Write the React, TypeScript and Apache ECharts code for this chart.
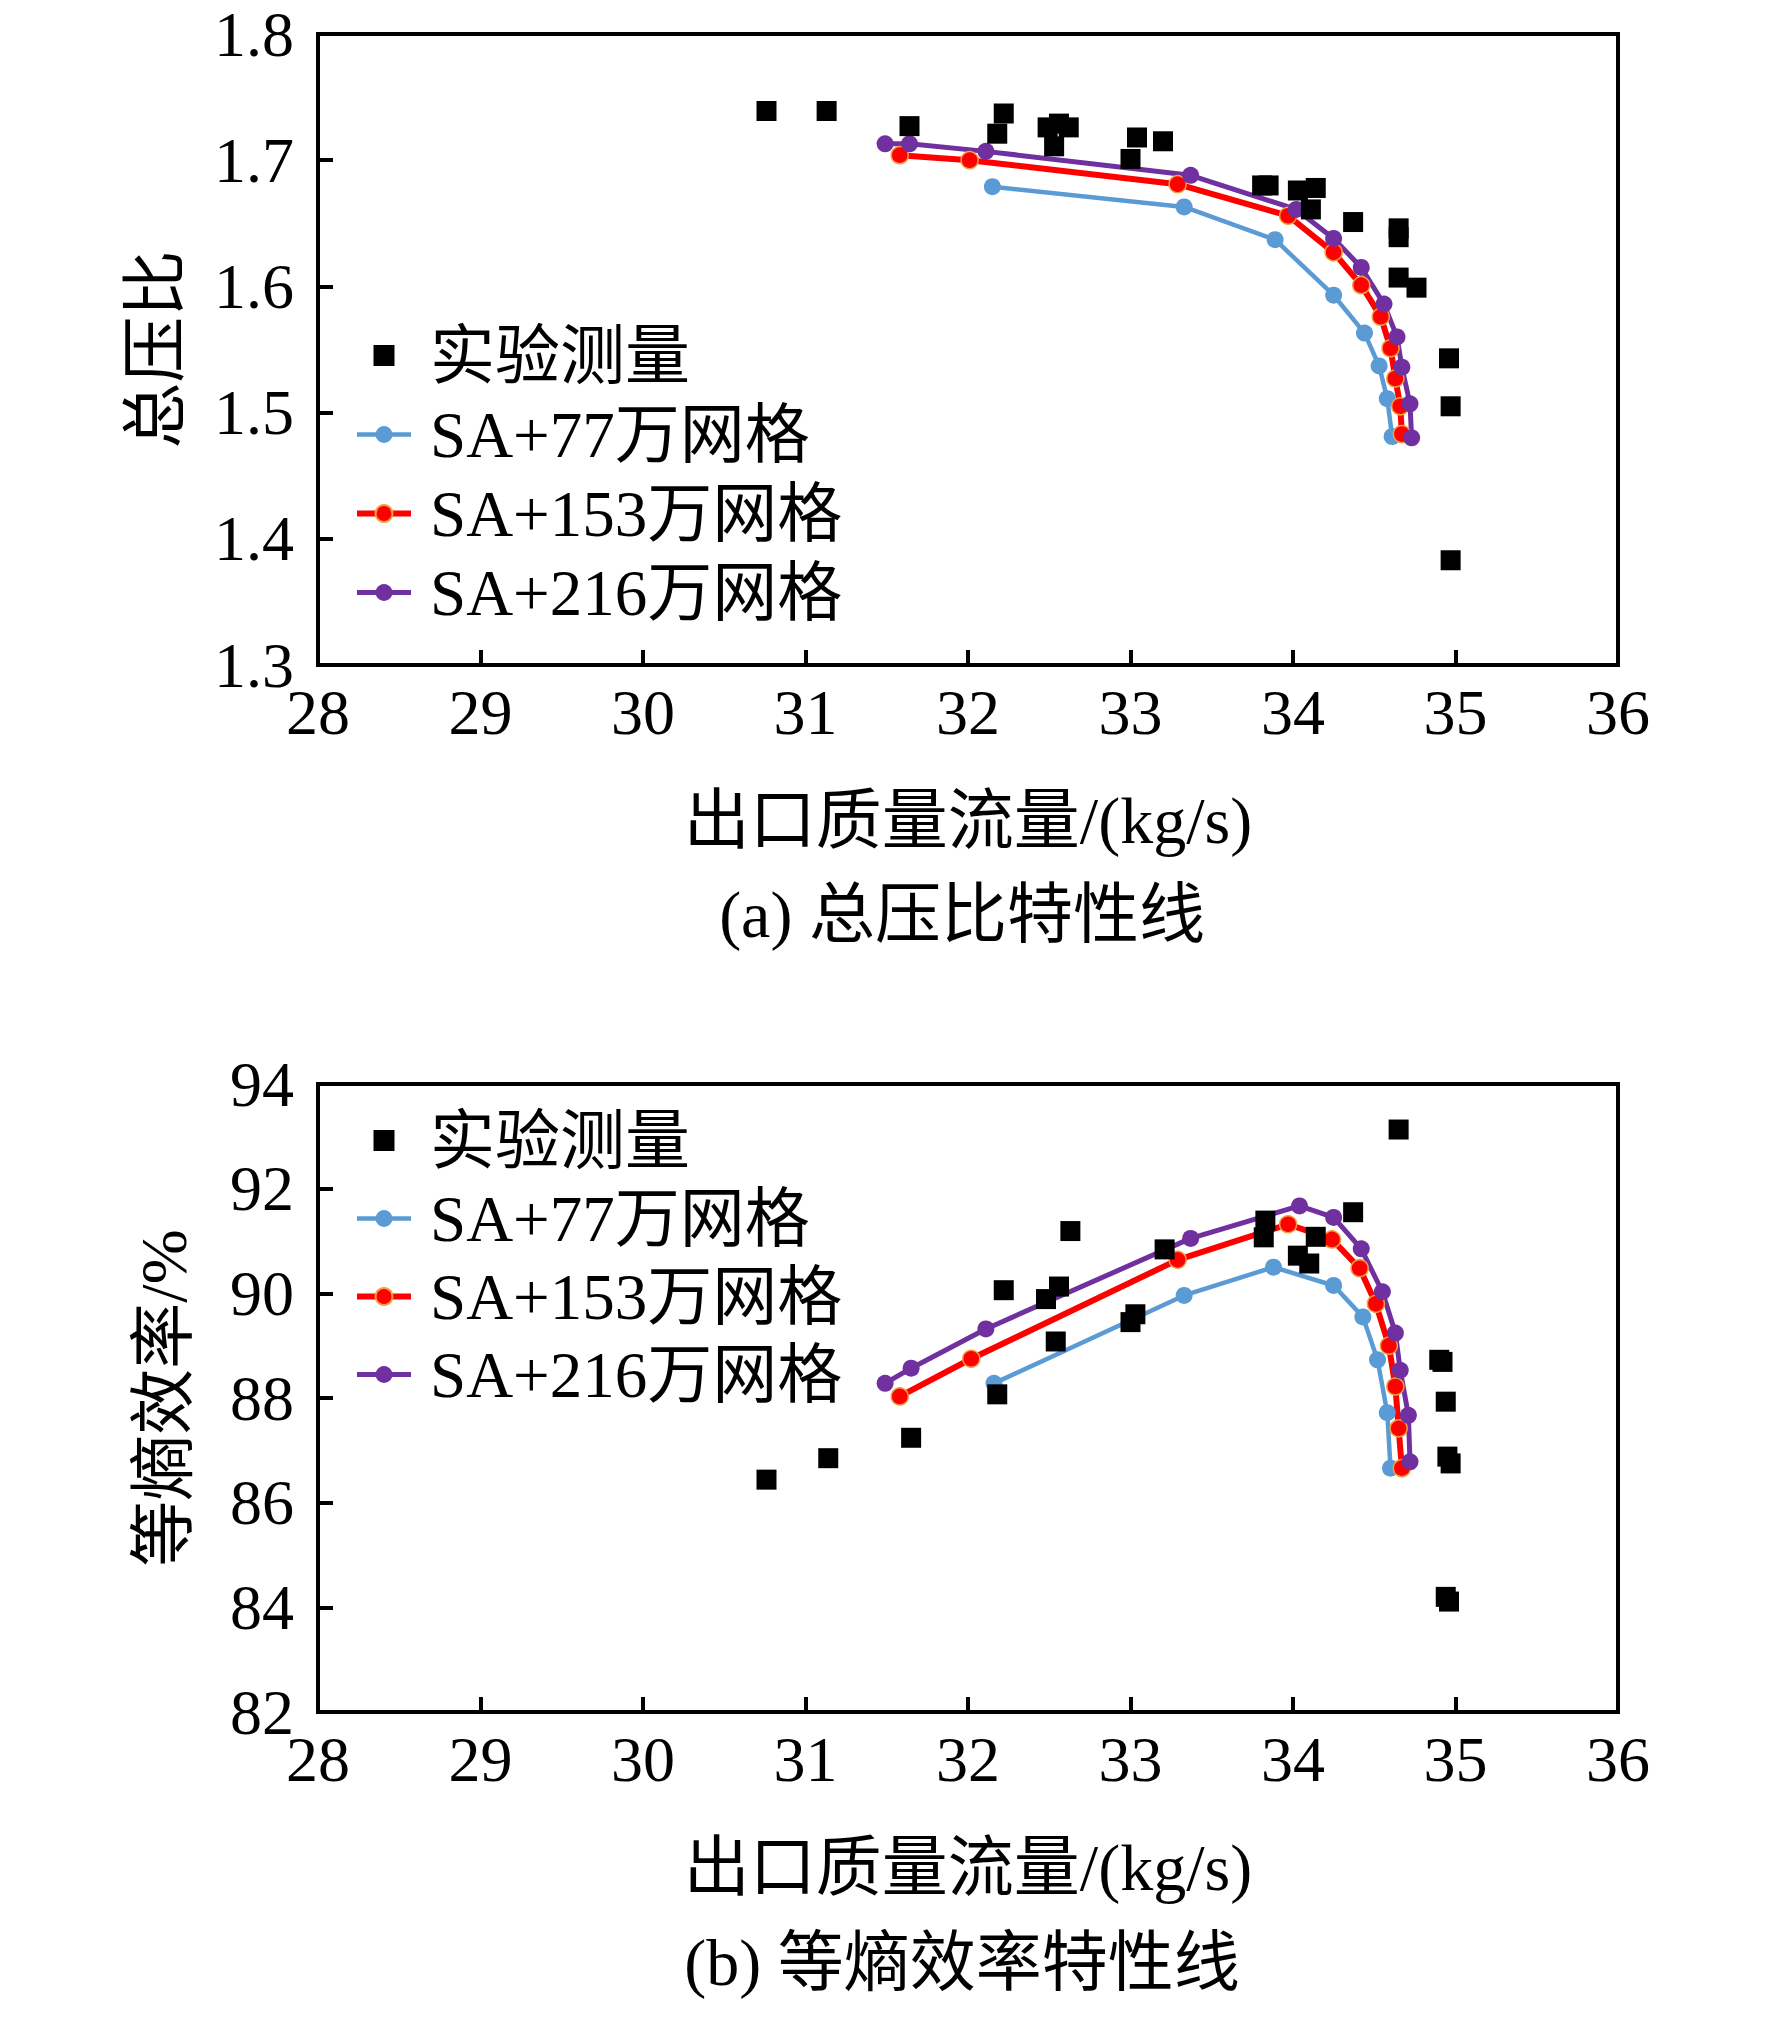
import React, { useEffect, useRef } from "react";
import * as echarts from "echarts";

// ---------- data ----------
const xTicks = [28, 29, 30, 31, 32, 33, 34, 35, 36];
const names = ["实验测量", "SA+77万网格", "SA+153万网格", "SA+216万网格"];
const colors = ["#000000", "#5b9bd5", "#ff0000", "#7030a0"];

// (a) total pressure ratio
const expPR = [
  [30.76, 1.739], [31.13, 1.739], [31.64, 1.727], [32.22, 1.737], [32.18, 1.721],
  [32.49, 1.726], [32.56, 1.729], [32.62, 1.726], [32.53, 1.711], [33.04, 1.718],
  [33.0, 1.701], [33.2, 1.715], [33.81, 1.68], [33.85, 1.68], [34.03, 1.676],
  [34.14, 1.678], [34.11, 1.661], [34.37, 1.651], [34.65, 1.646], [34.65, 1.639],
  [34.65, 1.607], [34.76, 1.599], [34.96, 1.543], [34.97, 1.505], [34.97, 1.383],
];
const pr77 = [
  [32.15, 1.679], [33.33, 1.663], [33.89, 1.637], [34.25, 1.593],
  [34.44, 1.563], [34.53, 1.537], [34.58, 1.511], [34.61, 1.481],
];
const pr153 = [
  [31.58, 1.704], [32.01, 1.7], [33.29, 1.681], [33.97, 1.656], [34.25, 1.627],
  [34.42, 1.601], [34.54, 1.576], [34.6, 1.551], [34.63, 1.527], [34.66, 1.505], [34.67, 1.483],
];
const pr216 = [
  [31.49, 1.713], [31.64, 1.713], [32.11, 1.707], [33.37, 1.688], [34.02, 1.661], [34.25, 1.638],
  [34.42, 1.615], [34.56, 1.586], [34.64, 1.56], [34.67, 1.536], [34.72, 1.507], [34.73, 1.48],
];

// (b) isentropic efficiency
const expEff = [
  [30.76, 86.44], [31.14, 86.85], [31.65, 87.24], [32.18, 88.07], [32.22, 90.06],
  [32.48, 89.89], [32.54, 89.08], [32.56, 90.13], [32.63, 91.19], [33.0, 89.45],
  [33.03, 89.6], [33.21, 90.84], [33.82, 91.07], [33.83, 91.39], [34.03, 90.72],
  [34.1, 90.57], [34.14, 91.08], [34.37, 91.55], [34.65, 93.13], [34.9, 88.73],
  [34.92, 88.69], [34.94, 87.93], [34.95, 86.88], [34.97, 86.75], [34.94, 84.2], [34.96, 84.11],
];
const eff77 = [
  [32.16, 88.28], [33.33, 89.96], [33.88, 90.5], [34.25, 90.15],
  [34.43, 89.55], [34.52, 88.73], [34.58, 87.72], [34.6, 86.66],
];
const eff153 = [
  [31.58, 88.03], [32.02, 88.75], [33.29, 90.64], [33.97, 91.32], [34.24, 91.03],
  [34.41, 90.48], [34.51, 89.8], [34.59, 89.0], [34.63, 88.22], [34.65, 87.42], [34.67, 86.66],
];
const eff216 = [
  [31.49, 88.28], [31.65, 88.57], [32.11, 89.32], [33.37, 91.05], [34.04, 91.67], [34.25, 91.45],
  [34.42, 90.85], [34.55, 90.03], [34.63, 89.24], [34.66, 88.53], [34.71, 87.67], [34.72, 86.78],
];

const xTitle = "出口质量流量/(kg/s)";
const yTitleA = "总压比";
const yTitleB = "等熵效率/%";
const captionA = "(a) 总压比特性线";
const captionB = "(b) 等熵效率特性线";

// ---------- styles ----------
const FONT = "'Liberation Serif', 'Times New Roman', 'Noto Sans CJK SC', serif";
const AXIS_W = 4;
const lineWidths = [0, 4.5, 6, 5];
const SQUARE_ICON = "path://M0,0L20,0L20,20L0,20Z";

function xAxisCfg(gridIndex: number) {
  return {
    type: "value",
    gridIndex,
    min: xTicks[0],
    max: xTicks[xTicks.length - 1],
    interval: 1,
    name: xTitle,
    nameLocation: "middle",
    nameGap: 122,
    nameTextStyle: { fontSize: 66, fontFamily: FONT, color: "#000" },
    axisLine: { show: true, lineStyle: { color: "#000", width: AXIS_W } },
    axisTick: { show: true, inside: true, length: 15, lineStyle: { color: "#000", width: AXIS_W } },
    axisLabel: { fontSize: 64, fontFamily: FONT, color: "#000", margin: 15 },
    splitLine: { show: false },
  };
}

function yAxisCfg(gridIndex: number, min: number, max: number, interval: number, name: string, gap: number, dec: number) {
  return {
    type: "value",
    gridIndex,
    min,
    max,
    interval,
    name,
    nameLocation: "middle",
    nameGap: gap,
    nameTextStyle: { fontSize: 66, fontFamily: FONT, color: "#000" },
    axisLine: { show: true, lineStyle: { color: "#000", width: AXIS_W } },
    axisTick: { show: true, inside: true, length: 15, lineStyle: { color: "#000", width: AXIS_W } },
    axisLabel: {
      fontSize: 64,
      fontFamily: FONT,
      color: "#000",
      margin: 24,
      formatter: (v: number) => v.toFixed(dec),
    },
    splitLine: { show: false },
  };
}

function lineSeries(name: string, data: number[][], idx: number, color: string, width: number, extra: any = {}) {
  return {
    name,
    type: "line",
    xAxisIndex: idx,
    yAxisIndex: idx,
    data,
    symbol: "circle",
    symbolSize: 17,
    showSymbol: true,
    lineStyle: { color, width },
    itemStyle: { color, opacity: 1, ...extra },
    z: 2,
  };
}

function scatterSeries(data: number[][], idx: number) {
  return {
    name: names[0],
    type: "scatter",
    xAxisIndex: idx,
    yAxisIndex: idx,
    data,
    symbol: "rect",
    symbolSize: 20,
    itemStyle: { color: "#000", opacity: 1 },
    z: 3,
  };
}

function legendCfg(top: number, gap: number) {
  return {
    orient: "vertical",
    left: 349,
    top,
    itemWidth: 54,
    itemHeight: 21,
    itemGap: gap,
    symbolKeepAspect: true,
    data: [
      { name: names[0], icon: SQUARE_ICON, itemStyle: { color: "#000", opacity: 1 } },
      { name: names[1], lineStyle: { width: lineWidths[1], color: colors[1] } },
      { name: names[2], lineStyle: { width: lineWidths[2], color: colors[2] } },
      { name: names[3], lineStyle: { width: lineWidths[3], color: colors[3] } },
    ],
    selectedMode: false,
    textStyle: { fontSize: 65, lineHeight: 62, fontFamily: FONT, color: "#000", padding: [0, 0, 0, 14] },
  };
}

export default function App() {
  const ref = useRef<HTMLDivElement>(null);

  useEffect(() => {
    document.body.style.margin = "0";
    const chart = echarts.init(ref.current!, null, { renderer: "svg" });
    const redBorder = { borderColor: "#f0a040", borderWidth: 1.5 };
    const option: any = {
      animation: false,
      backgroundColor: "#fff",
      grid: [
        { left: 318, top: 34, width: 1300, height: 631, show: true, borderColor: "#000", borderWidth: AXIS_W, backgroundColor: "transparent" },
        { left: 318, top: 1084, width: 1300, height: 628, show: true, borderColor: "#000", borderWidth: AXIS_W, backgroundColor: "transparent" },
      ],
      xAxis: [xAxisCfg(0), xAxisCfg(1)],
      yAxis: [
        yAxisCfg(0, 1.3, 1.8, 0.1, yTitleA, 130, 1),
        yAxisCfg(1, 82, 94, 2, yTitleB, 122, 0),
      ],
      legend: [legendCfg(318, 14), legendCfg(1103, 13)],
      series: [
        scatterSeries(expPR, 0),
        lineSeries(names[1], pr77, 0, colors[1], lineWidths[1]),
        lineSeries(names[2], pr153, 0, colors[2], lineWidths[2], redBorder),
        lineSeries(names[3], pr216, 0, colors[3], lineWidths[3]),
        scatterSeries(expEff, 1),
        lineSeries(names[1], eff77, 1, colors[1], lineWidths[1]),
        lineSeries(names[2], eff153, 1, colors[2], lineWidths[2], redBorder),
        lineSeries(names[3], eff216, 1, colors[3], lineWidths[3]),
      ],
      graphic: [
        {
          type: "text",
          x: 962,
          y: 914,
          style: { text: captionA, fontSize: 66, fontFamily: FONT, fill: "#000", align: "center", verticalAlign: "middle" },
        },
        {
          type: "text",
          x: 962,
          y: 1962,
          style: { text: captionB, fontSize: 66, fontFamily: FONT, fill: "#000", align: "center", verticalAlign: "middle" },
        },
      ],
    };
    chart.setOption(option);
    return () => chart.dispose();
  }, []);

  return <div ref={ref} style={{ width: 1772, height: 2021 }} />;
}
